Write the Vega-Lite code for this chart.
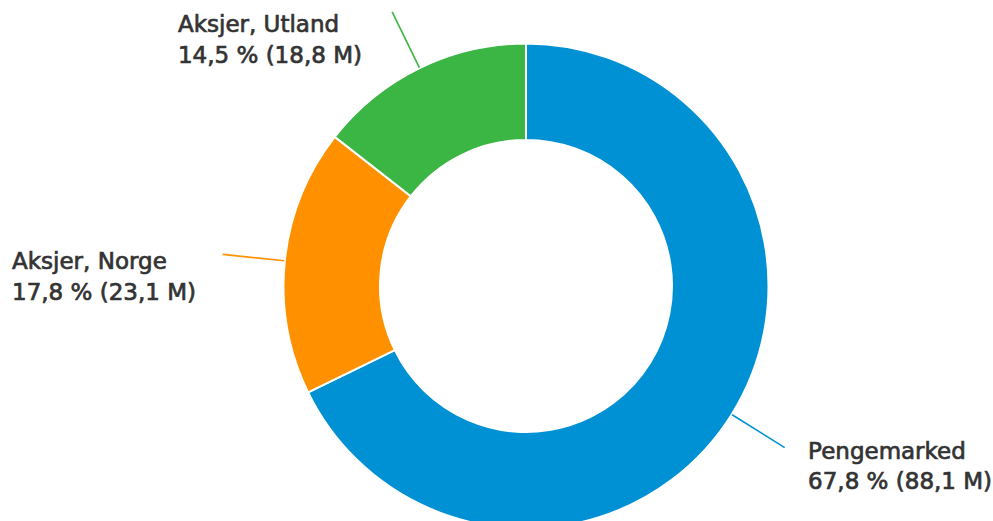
{
  "$schema": "https://vega.github.io/schema/vega-lite/v6.json",
  "width": 934,
  "height": 470,
  "padding": {"left": 59, "top": 51, "right": 0, "bottom": 0},
  "autosize": {"type": "none"},
  "background": "#ffffff",
  "config": {"view": {"stroke": null}, "text": {"font": "DejaVu Sans", "fontSize": 23, "fill": "#333333", "stroke": "#333333", "strokeWidth": 0.7, "align": "left", "baseline": "alphabetic"}},
  "data": {
    "values": [
      {"category": "Pengemarked", "value": 88.1, "detail": "67,8 % (88,1 M)"},
      {"category": "Aksjer, Norge", "value": 23.1, "detail": "17,8 % (23,1 M)"},
      {"category": "Aksjer, Utland", "value": 18.8, "detail": "14,5 % (18,8 M)"}
    ]
  },
  "transform": [
    {"stack": "value", "groupby": [], "sort": [{"field": "value", "order": "descending"}], "as": ["v0", "v1"]}
  ],
  "layer": [
    {
      "mark": {"type": "arc", "radius": 242.5, "radius2": 146, "stroke": "#ffffff", "strokeWidth": 2},
      "encoding": {
        "theta": {"field": "v0", "type": "quantitative", "scale": {"domain": [0, 130], "nice": false, "zero": true}},
        "theta2": {"field": "v1"},
        "color": {
          "field": "category", "type": "nominal",
          "scale": {"domain": ["Pengemarked", "Aksjer, Norge", "Aksjer, Utland"], "range": ["#0090d4", "#ff9100", "#3bb543"]},
          "legend": null
        }
      }
    },
    {
      "transform": [
        {"fold": ["v0", "v1"], "as": ["k", "a"]},
        {"aggregate": [{"op": "mean", "field": "a", "as": "mid"}], "groupby": ["category", "detail"]}
      ],
      "mark": {"type": "arc", "filled": false, "radius": 305, "radius2": 243, "strokeWidth": 1.6},
      "encoding": {
        "theta": {"field": "mid", "type": "quantitative"},
        "theta2": {"field": "mid"},
        "color": {"field": "category", "type": "nominal", "legend": null}
      }
    },
    {
      "transform": [
        {"fold": ["v0", "v1"], "as": ["k", "a"]},
        {"aggregate": [{"op": "mean", "field": "a", "as": "mid"}], "groupby": ["category", "detail"]},
        {"filter": "datum.category === 'Pengemarked'"}
      ],
      "mark": {"type": "text", "radius": 305, "dx": 23.4, "dy": 11.4},
      "encoding": {"theta": {"field": "mid", "type": "quantitative", "stack": null}, "text": {"field": "category"}}
    },
    {
      "transform": [
        {"fold": ["v0", "v1"], "as": ["k", "a"]},
        {"aggregate": [{"op": "mean", "field": "a", "as": "mid"}], "groupby": ["category", "detail"]},
        {"filter": "datum.category === 'Pengemarked'"}
      ],
      "mark": {"type": "text", "radius": 305, "dx": 23.4, "dy": 41.9},
      "encoding": {"theta": {"field": "mid", "type": "quantitative", "stack": null}, "text": {"field": "detail"}}
    },
    {
      "transform": [
        {"fold": ["v0", "v1"], "as": ["k", "a"]},
        {"aggregate": [{"op": "mean", "field": "a", "as": "mid"}], "groupby": ["category", "detail"]},
        {"filter": "datum.category === 'Aksjer, Norge'"}
      ],
      "mark": {"type": "text", "radius": 305, "dx": -210.6, "dy": 14.6},
      "encoding": {"theta": {"field": "mid", "type": "quantitative", "stack": null}, "text": {"field": "category"}}
    },
    {
      "transform": [
        {"fold": ["v0", "v1"], "as": ["k", "a"]},
        {"aggregate": [{"op": "mean", "field": "a", "as": "mid"}], "groupby": ["category", "detail"]},
        {"filter": "datum.category === 'Aksjer, Norge'"}
      ],
      "mark": {"type": "text", "radius": 305, "dx": -210.6, "dy": 46.1},
      "encoding": {"theta": {"field": "mid", "type": "quantitative", "stack": null}, "text": {"field": "detail"}}
    },
    {
      "transform": [
        {"fold": ["v0", "v1"], "as": ["k", "a"]},
        {"aggregate": [{"op": "mean", "field": "a", "as": "mid"}], "groupby": ["category", "detail"]},
        {"filter": "datum.category === 'Aksjer, Utland'"}
      ],
      "mark": {"type": "text", "radius": 305, "dx": -214.2, "dy": 19.8},
      "encoding": {"theta": {"field": "mid", "type": "quantitative", "stack": null}, "text": {"field": "category"}}
    },
    {
      "transform": [
        {"fold": ["v0", "v1"], "as": ["k", "a"]},
        {"aggregate": [{"op": "mean", "field": "a", "as": "mid"}], "groupby": ["category", "detail"]},
        {"filter": "datum.category === 'Aksjer, Utland'"}
      ],
      "mark": {"type": "text", "radius": 305, "dx": -214.2, "dy": 51.1},
      "encoding": {"theta": {"field": "mid", "type": "quantitative", "stack": null}, "text": {"field": "detail"}}
    }
  ]
}
